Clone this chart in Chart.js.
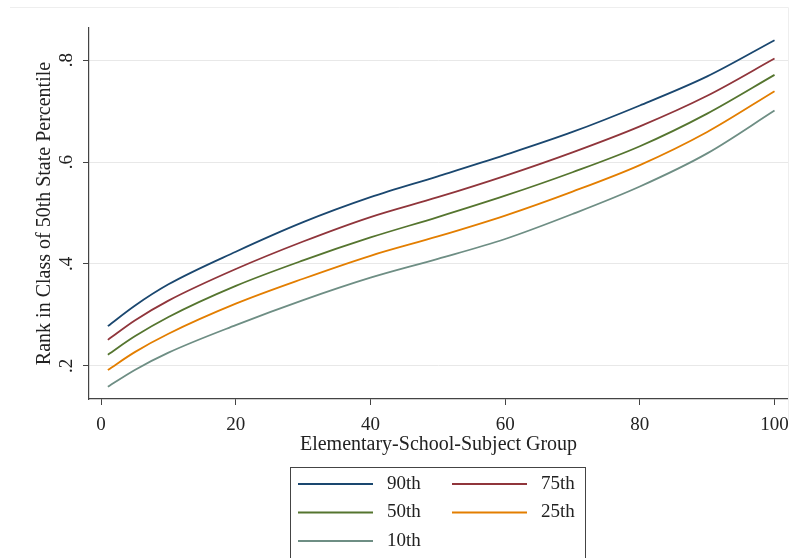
<!DOCTYPE html>
<html>
<head>
<meta charset="utf-8">
<script src="https://cdn.jsdelivr.net/npm/chart.js@4"></script>
<style>
body { margin: 0; background: #fff; }
</style>
</head>
<body>
<canvas id="myChart" width="795" height="558"></canvas>
<script>
var groups = [1, 5, 10, 20, 30, 40, 50, 60, 70, 80, 90, 100]
var p90 = [0.278, 0.318, 0.360, 0.424, 0.482, 0.531, 0.572, 0.614, 0.659, 0.711, 0.768, 0.839]
var p75 = [0.251, 0.289, 0.328, 0.390, 0.444, 0.492, 0.531, 0.573, 0.619, 0.670, 0.730, 0.803]
var p50 = [0.222, 0.258, 0.296, 0.357, 0.407, 0.452, 0.492, 0.534, 0.580, 0.631, 0.695, 0.771]
var p25 = [0.192, 0.227, 0.263, 0.322, 0.371, 0.416, 0.454, 0.495, 0.542, 0.594, 0.659, 0.739]
var p10 = [0.159, 0.192, 0.226, 0.280, 0.329, 0.373, 0.410, 0.449, 0.498, 0.552, 0.617, 0.701]
var seriesNames = ['90th', '75th', '50th', '25th', '10th']
var xTicks = [0, 20, 40, 60, 80, 100]
var yTicks = [0.2, 0.4, 0.6, 0.8]
var yTickLabels = ['.2', '.4', '.6', '.8']

var serif = '"Liberation Serif", "Times New Roman", serif'
var colors = ['#1a476f', '#90353b', '#55752f', '#e37e00', '#6e8e84']
var allSeries = [p90, p75, p50, p25, p10]

function toPoints(vals) {
	return groups.map(function (g, i) { return { x: g, y: vals[i] } })
}

var datasets = allSeries.map(function (vals, i) {
	return {
		label: seriesNames[i],
		data: toPoints(vals),
		borderColor: colors[i],
		backgroundColor: colors[i],
		borderWidth: 1.8,
		pointRadius: 0,
		fill: false,
		cubicInterpolationMode: 'monotone',
	}
})

// legend box below the axis, two columns like the stata one
var boxLegend = {
	id: 'boxLegend',
	afterDraw: function (chart) {
		var c = chart.ctx
		c.save()
		// faint graph region frame
		c.strokeStyle = '#eeeeee'
		c.lineWidth = 1
		c.beginPath()
		c.moveTo(10, 7.5)
		c.lineTo(788.5, 7.5)
		c.lineTo(788.5, 420)
		c.stroke()

		c.strokeStyle = '#444'
		c.lineWidth = 1
		c.strokeRect(290.5, 467.5, 295, 100)
		c.font = '19px ' + serif
		c.fillStyle = '#222'
		c.textBaseline = 'middle'
		chart.data.datasets.forEach(function (ds, i) {
			var col = i % 2
			var row = Math.floor(i / 2)
			var y = 484 + row * 28.5
			var x0 = col === 0 ? 298 : 452
			c.strokeStyle = ds.borderColor
			c.lineWidth = 2
			c.beginPath()
			c.moveTo(x0, y)
			c.lineTo(x0 + 75, y)
			c.stroke()
			c.textAlign = 'left'
			c.fillText(ds.label, col === 0 ? 387 : 541, y)
		})
		c.restore()
	}
}

var ctx = document.getElementById('myChart')
var chart = new Chart(ctx, {
	type: 'line',
	data: { datasets: datasets },
	plugins: [boxLegend],
	options: {
		responsive: false,
		animation: false,
		layout: { padding: { left: 0, right: 7, top: 28, bottom: 99 } },
		plugins: {
			legend: { display: false },
			tooltip: { enabled: false },
		},
		scales: {
			x: {
				type: 'linear',
				min: -1.8,
				max: 102,
				afterBuildTicks: function (s) { s.ticks = xTicks.map(function (v) { return { value: v } }) },
				afterFit: function (s) { s.height = 60; s.paddingLeft = 0; s.paddingRight = 0 },
				border: { color: '#444', width: 1.2 },
				grid: { drawOnChartArea: false, tickLength: 6, tickColor: '#444' },
				ticks: { color: '#222', padding: 9, maxRotation: 0, font: { family: serif, size: 19 } },
				title: {
					display: true,
					text: 'Elementary-School-Subject Group',
					color: '#222',
					font: { family: serif, size: 20 },
					padding: { top: 0, bottom: 2 },
				},
			},
			y: {
				min: 0.135,
				max: 0.863,
				afterBuildTicks: function (s) { s.ticks = yTicks.map(function (v) { return { value: v } }) },
				afterFit: function (s) { s.width = 89 },
				border: { color: '#444', width: 1.2 },
				grid: { color: '#e8e8e8', tickLength: 6, tickColor: '#444' },
				ticks: {
					color: '#222',
					padding: 9,
					minRotation: 90,
					maxRotation: 90,
					crossAlign: 'center',
					font: { family: serif, size: 19 },
					callback: function (v) {
						var k = yTicks.indexOf(Math.round(v * 10) / 10)
						return k >= 0 ? yTickLabels[k] : ''
					},
				},
				title: {
					display: true,
					text: 'Rank in Class of 50th State Percentile',
					color: '#222',
					font: { family: serif, size: 20 },
					padding: { top: 33, bottom: 0 },
				},
			},
		},
	},
})
</script>
</body>
</html>
